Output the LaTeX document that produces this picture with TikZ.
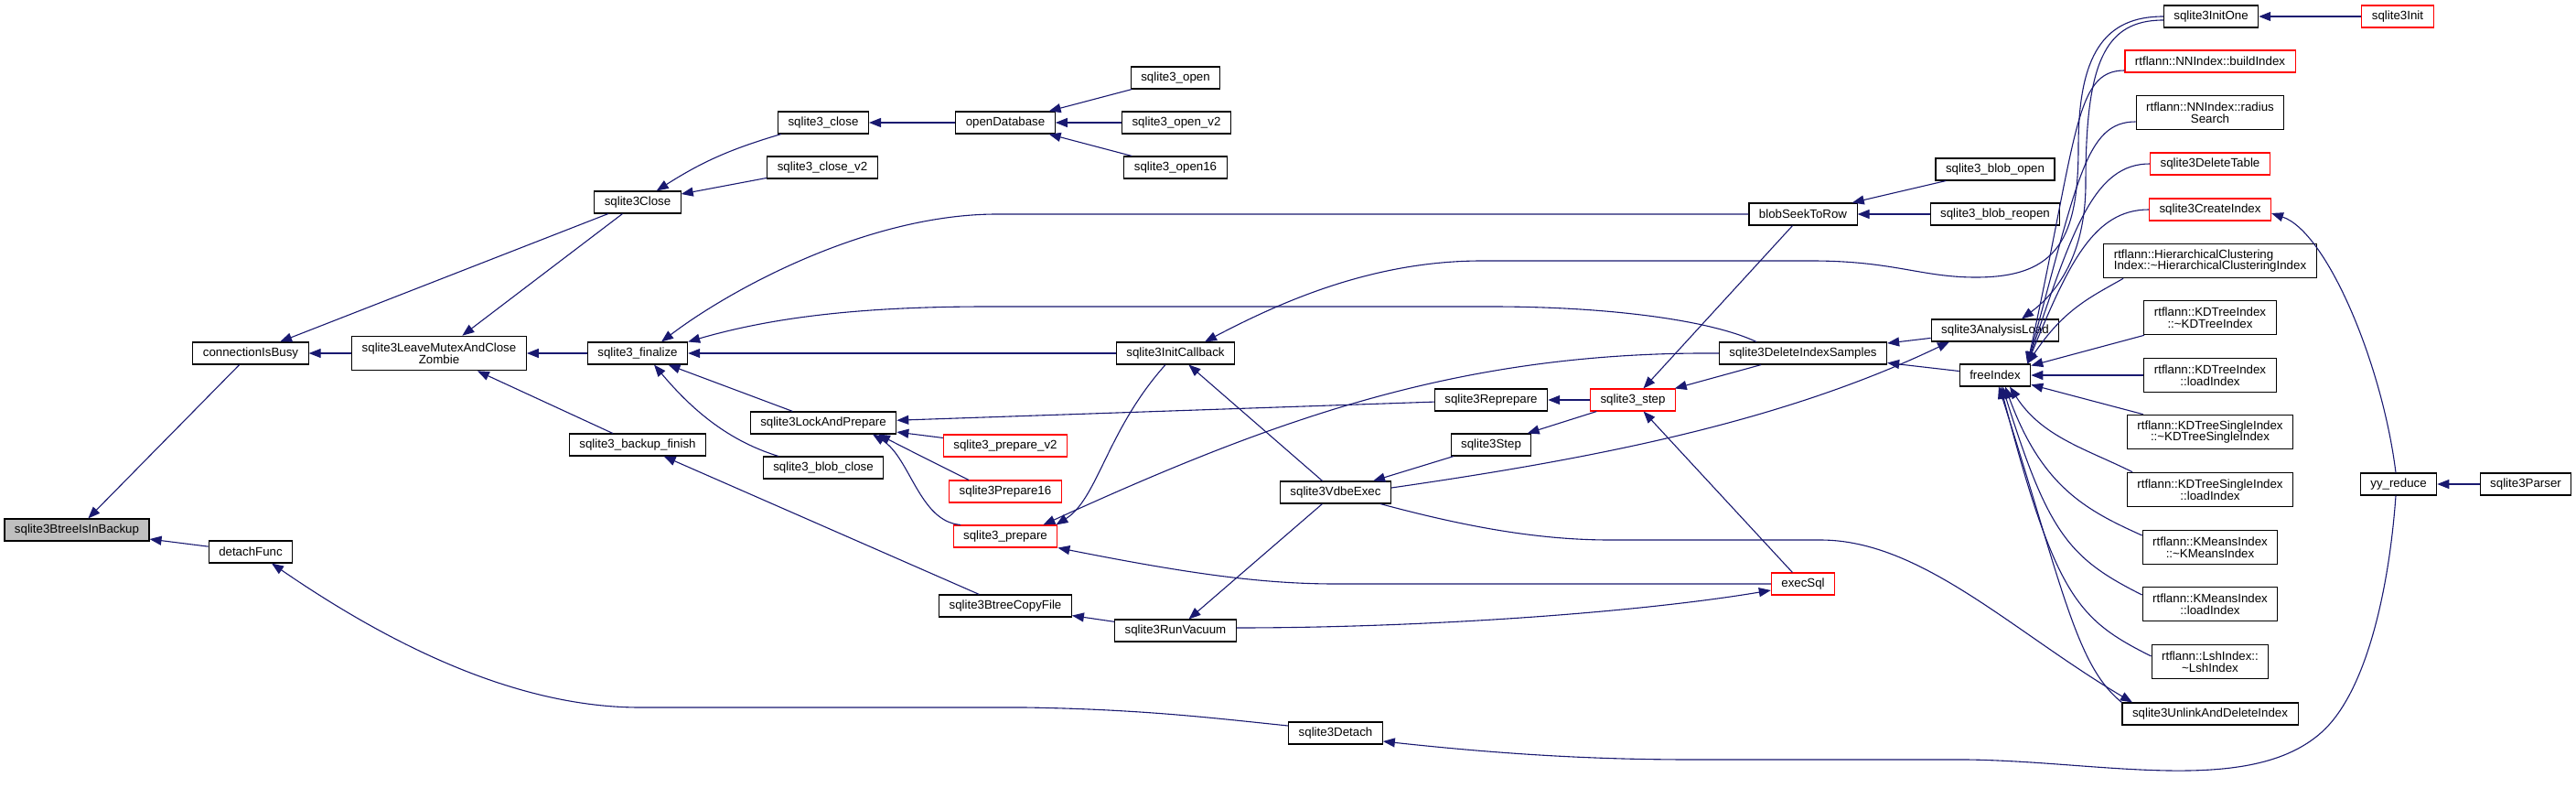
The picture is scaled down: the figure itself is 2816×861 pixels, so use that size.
\documentclass[tikz,border=0pt]{standalone}
\usepackage{fontspec}
\setmainfont{Liberation Sans}
\usepackage{xcolor}
\usetikzlibrary{arrows.meta}
\definecolor{edgeblue}{HTML}{191970}
\newcommand{\tld}{\textasciitilde}

\begin{document}
\begin{tikzpicture}[x=1pt,y=1pt,
fn/.style={draw=black,line width=1.1pt,fill=white,minimum height=24pt,inner xsep=11pt,inner ysep=2pt,font=\fontsize{13.3}{12.7}\selectfont,align=center},
fntwo/.style={fn,minimum height=37.5pt},
hot/.style={fn,draw=red},
cur/.style={fn,fill=black!25},
call/.style={draw=edgeblue,line width=1.1pt,{Triangle[length=13pt,width=10pt]}-}]
\useasboundingbox (0,0) rectangle (2816,-861);

\node[cur] (bib) at (84,-579) {sqlite3BtreeIsInBackup};
\node[fn] (busy) at (274,-386) {connectionIsBusy};
\node[fn] (dfunc) at (274,-603) {detachFunc};
\node[fntwo] (zomb) at (480,-386) {sqlite3LeaveMutexAndClose\\Zombie};
\node[fn] (close) at (697,-221) {sqlite3Close};
\node[fn] (fin) at (697,-386) {sqlite3\_finalize};
\node[fn] (bkf) at (697,-486) {sqlite3\_backup\_finish};
\node[fn] (sclose) at (900,-134) {sqlite3\_close};
\node[fn] (sclosev) at (899,-183) {sqlite3\_close\_v2};
\node[fn] (lap) at (900,-462) {sqlite3LockAndPrepare};
\node[fn] (bclose) at (900,-511) {sqlite3\_blob\_close};
\node[fn] (odb) at (1099,-134) {openDatabase};
\node[hot] (prepv) at (1099,-487) {sqlite3\_prepare\_v2};
\node[hot] (prep16) at (1099,-537) {sqlite3Prepare16};
\node[hot] (prep) at (1099,-586) {sqlite3\_prepare};
\node[fn] (cpf) at (1099,-662) {sqlite3BtreeCopyFile};
\node[fn] (open) at (1285,-85) {sqlite3\_open};
\node[fn] (openv) at (1286,-134) {sqlite3\_open\_v2};
\node[fn] (open16) at (1285,-183) {sqlite3\_open16};
\node[fn] (icb) at (1285,-386) {sqlite3InitCallback};
\node[fn] (vac) at (1285,-689) {sqlite3RunVacuum};
\node[fn] (vdbe) at (1460,-538) {sqlite3VdbeExec};
\node[fn] (detach) at (1460,-801) {sqlite3Detach};
\node[fn] (repr) at (1630,-437) {sqlite3Reprepare};
\node[fn] (sstepb) at (1630,-486) {sqlite3Step};
\node[hot] (sstep) at (1785,-437) {sqlite3\_step};
\node[fn] (seek) at (1971,-234) {blobSeekToRow};
\node[fn] (dis) at (1971,-386) {sqlite3DeleteIndexSamples};
\node[hot] (exec) at (1971,-638) {execSql};
\node[fn] (bopen) at (2181,-185) {sqlite3\_blob\_open};
\node[fn] (breopen) at (2181,-234) {sqlite3\_blob\_reopen};
\node[fn] (aload) at (2181,-361) {sqlite3AnalysisLoad};
\node[fn] (fidx) at (2181,-410) {freeIndex};
\node[fn] (ione) at (2417,-18) {sqlite3InitOne};
\node[hot] (bidx) at (2416,-67) {rtflann::NNIndex::buildIndex};
\node[fntwo] (rsrch) at (2416,-123) {rtflann::NNIndex::radius\\Search};
\node[hot] (dtab) at (2416,-179) {sqlite3DeleteTable};
\node[hot] (cidx) at (2416,-229) {sqlite3CreateIndex};
\node[fntwo,align=left] (hcl) at (2416,-285) {rtflann::HierarchicalClustering\\Index::\tld HierarchicalClusteringIndex};
\node[fntwo] (kda) at (2416,-347) {rtflann::KDTreeIndex\\::\tld KDTreeIndex};
\node[fntwo] (kdb) at (2416,-410) {rtflann::KDTreeIndex\\::loadIndex};
\node[fntwo] (kdsa) at (2416,-472) {rtflann::KDTreeSingleIndex\\::\tld KDTreeSingleIndex};
\node[fntwo] (kdsb) at (2416,-535) {rtflann::KDTreeSingleIndex\\::loadIndex};
\node[fntwo] (kma) at (2416,-598) {rtflann::KMeansIndex\\::\tld KMeansIndex};
\node[fntwo] (kmb) at (2416,-660) {rtflann::KMeansIndex\\::loadIndex};
\node[fntwo] (lsh) at (2416,-723) {rtflann::LshIndex::\\\tld LshIndex};
\node[fn] (udi) at (2416,-780) {sqlite3UnlinkAndDeleteIndex};
\node[hot] (init) at (2621,-18) {sqlite3Init};
\node[fn] (yy) at (2622,-529) {yy\_reduce};
\node[fn] (parser) at (2761,-529) {sqlite3Parser};

\draw[call] (bib) -- (busy);
\draw[call] (bib) -- (dfunc);
\draw[call] (busy) -- (zomb);
\draw[call] (busy) -- (close);
\draw[call] (zomb) -- (close);
\draw[call] (zomb) -- (fin);
\draw[call] (zomb) -- (bkf);
\draw[call] (close) to[bend left=8] (sclose);
\draw[call] (close) -- (sclosev);
\draw[call] (sclose) -- (odb);
\draw[call] (odb) -- (open);
\draw[call] (odb) -- (openv);
\draw[call] (odb) -- (open16);
\draw[call] ([xshift=26pt]fin.north) .. controls (800,-315) and (950,-234) .. (1090,-234) -- (seek);
\draw[call] (fin.north east) .. controls (850,-345) and (950,-335) .. (1080,-335) -- (1630,-335) .. controls (1760,-335) and (1870,-350) .. ([xshift=-51pt]dis.north);
\draw[call] (fin) -- (icb);
\draw[call] (fin) -- (lap);
\draw[call] ([xshift=18pt]fin.south) .. controls (750,-440) and (790,-480) .. ([xshift=-49pt]bclose.north);
\draw[call] (lap) -- (repr);
\draw[call] (lap) -- (prepv);
\draw[call] ([xshift=60pt]lap.south) .. controls (1000,-495) and (1030,-510) .. ([xshift=-40pt]prep16.north);
\draw[call] ([xshift=54pt]lap.south) .. controls (995,-500) and (1005,-570) .. ([xshift=-49pt]prep.north);
\draw[call] ([xshift=-16pt]prep.north east) .. controls (1400,-455) and (1600,-384) .. (dis.west);
\draw[call] ([xshift=-2pt]prep.north east) .. controls (1200,-545) and (1210,-470) .. ([xshift=-11pt]icb.south);
\draw[call] (prep.south east) .. controls (1300,-627) and (1380,-638) .. (1460,-638) -- (exec);
\draw[call] (bkf) -- (cpf);
\draw[call] (cpf) -- (vac);
\draw[call] (vac) -- (vdbe);
\draw[call] (icb) -- (vdbe);
\draw[call] ([xshift=32pt]icb.north) .. controls (1400,-330) and (1500,-285) .. (1620,-285) -- (1980,-285) .. controls (2070,-285) and (2100,-303) .. (2160,-303) .. controls (2250,-303) and (2272,-260) .. (2272,-160) .. controls (2272,-60) and (2300,-18) .. (ione.west);
\draw[call] ([xshift=29pt]aload.north) .. controls (2255,-315) and (2280,-270) .. (2280,-200) .. controls (2280,-70) and (2300,-22) .. ([yshift=-4pt]ione.west);
\draw[call] ([yshift=-7pt]exec.west) .. controls +(-150,-25) and +(200,0) .. ([yshift=3pt]vac.east);
\draw[call] (sstep) -- (seek);
\draw[call] (sstep) -- (dis);
\draw[call] (sstep) -- (exec);
\draw[call] (repr) -- (sstep);
\draw[call] (sstepb) -- (sstep);
\draw[call] (vdbe) -- (sstepb);
\draw[call] ([xshift=-50pt]aload.south) .. controls (1950,-460) and (1750,-500) .. ([yshift=5pt]vdbe.east);
\draw[call] ([xshift=-85pt]udi.north) .. controls (2200,-690) and (2100,-590) .. (1990,-590) -- (1760,-590) .. controls (1680,-590) and (1600,-575) .. ([xshift=49pt]vdbe.south);
\draw[call] (dis) -- (aload);
\draw[call] (dis) -- (fidx);
\draw[call] (seek) -- (bopen);
\draw[call] (seek) -- (breopen);
\draw[call] (ione) -- (init);
\draw[call] (yy) -- (parser);
\draw[call] ([yshift=-4pt]cidx.east) .. controls +(60,-20) and +(-15,120) .. ([xshift=-3pt]yy.north);
\draw[call] ([yshift=-9pt]detach.east) .. controls (1650,-825) and (1750,-830) .. (1850,-830) -- (2150,-830) .. controls (2300,-832) and (2460,-870) .. (2538,-800) .. controls (2588,-755) and (2612,-640) .. ([xshift=-3pt]yy.south);
\draw[call] ([xshift=23pt]dfunc.south) .. controls (420,-700) and (560,-773) .. (700,-773) -- (1120,-773) .. controls (1250,-775) and (1330,-785) .. ([yshift=8pt]detach.west);
\draw[call] ([xshift=-4pt]fidx.north east) .. controls +(55,250) and +(-55,0) .. ([yshift=-10pt]bidx.west);
\draw[call] ([xshift=-4pt]fidx.north east) .. controls +(55,200) and +(-55,0) .. ([yshift=-10pt]rsrch.west);
\draw[call] ([xshift=-4pt]fidx.north east) .. controls +(50,150) and +(-60,0) .. (dtab.west);
\draw[call] ([xshift=-4pt]fidx.north east) .. controls +(45,110) and +(-60,0) .. (cidx.west);
\draw[call] ([xshift=-4pt]fidx.north east) .. controls +(40,60) and +(-35,-20) .. ([xshift=-95pt]hcl.south);
\draw[call] (fidx) -- (kda);
\draw[call] (fidx) -- (kdb);
\draw[call] (fidx) -- (kdsa);
\draw[call] ([xshift=16pt]fidx.south) .. controls +(35,-55) and +(-50,25) .. ([xshift=-85pt]kdsb.north);
\draw[call] ([xshift=11pt]fidx.south) .. controls +(40,-110) and +(-60,27) .. ([yshift=13pt]kma.west);
\draw[call] ([xshift=8pt]fidx.south) .. controls +(50,-160) and +(-80,40) .. ([yshift=10pt]kmb.west);
\draw[call] ([xshift=6pt]fidx.south) .. controls +(60,-230) and +(-80,40) .. ([yshift=6pt]lsh.west);
\draw[call] ([xshift=4pt]fidx.south) .. controls +(70,-220) and +(-50,40) .. (udi.north west);
\end{tikzpicture}
\end{document}
